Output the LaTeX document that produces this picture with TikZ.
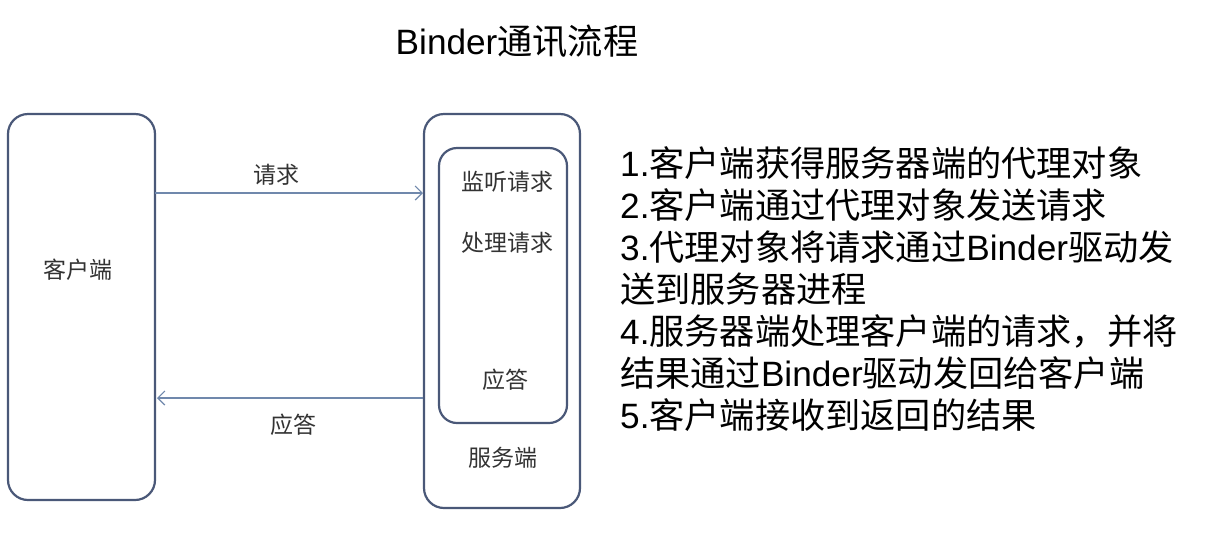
\documentclass[tikz,border=0pt]{standalone}
\usepackage{fontspec}
\setmainfont{Noto Sans CJK SC}
\newfontfamily\latin{Liberation Sans}
\usetikzlibrary{arrows.meta}
\definecolor{boxc}{HTML}{4A5878}
\definecolor{arrc}{HTML}{7088AC}
\definecolor{txtc}{HTML}{333333}
\begin{document}
\begin{tikzpicture}[x=1pt,y=-1pt,
  box/.style={draw=boxc,line width=2.2pt,rounded corners=20pt},
  conn/.style={draw=arrc,line width=1.2pt,-{Straight Barb[length=7pt,width=14pt,line width=1.2pt]}},
  lbl/.style={text=txtc,font=\fontsize{23}{27}\selectfont,inner sep=0pt},
  big/.style={font=\fontsize{35.2}{42}\selectfont,inner sep=0pt}]
\useasboundingbox (0,0) rectangle (1205,550);
\fill[white] (0,0) rectangle (1205,550);
\node[big,anchor=center] (title) at (517,41) {{\latin Binder}通讯流程};
% boxes
\draw[box] (8,114) rectangle (155,500);
\draw[box] (424,114) rectangle (580,508);
\draw[box,rounded corners=18pt] (439,148) rectangle (567,423);
\coordinate (cR) at (155,193);
\coordinate (sL) at (423,193);
\coordinate (sR) at (423,398);
\coordinate (cL) at (157,398);
\draw[conn] (cR) -- (sL);
\draw[conn] (sR) -- (cL);
\node[lbl] (client) at (78,270) {客户端};
\node[lbl] (req) at (276,175) {请求};
\node[lbl] (resp) at (293,425) {应答};
\node[lbl] (listen) at (507,182) {监听请求};
\node[lbl] (proc) at (507,243) {处理请求};
\node[lbl] (ans) at (505,380) {应答};
\node[lbl] (server) at (503,458) {服务端};
\node[big,anchor=north west,align=left] (steps) at (620,146) {%
{\latin 1.}客户端获得服务器端的代理对象\\
{\latin 2.}客户端通过代理对象发送请求\\
{\latin 3.}代理对象将请求通过{\latin Binder}驱动发\\
送到服务器进程\\
{\latin 4.}服务器端处理客户端的请求，并将\\
结果通过{\latin Binder}驱动发回给客户端\\
{\latin 5.}客户端接收到返回的结果};
\end{tikzpicture}
\end{document}
